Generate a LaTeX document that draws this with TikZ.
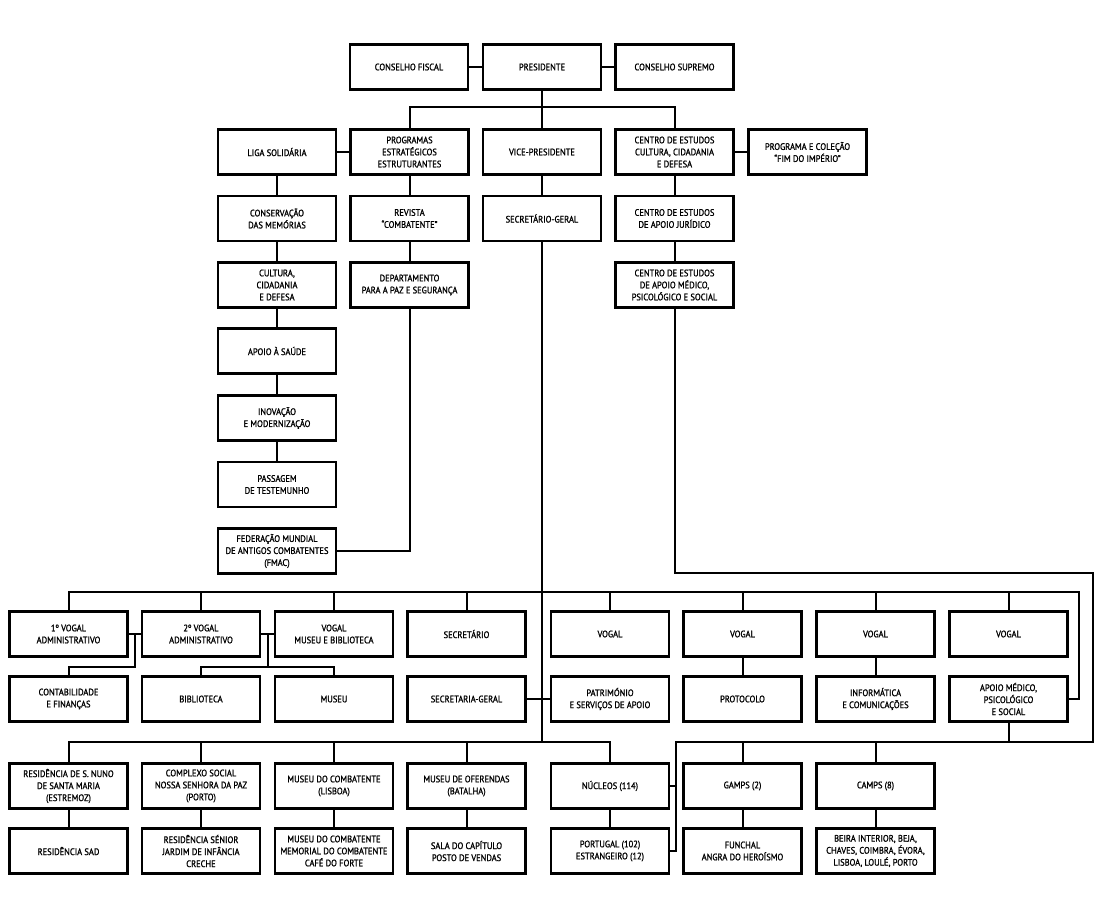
\documentclass[tikz,border=0pt]{standalone}
\usepackage{fontspec}
\setmainfont{PT Sans}[FakeStretch=0.9,FakeBold=1.2]
\begin{document}
\begin{tikzpicture}[x=1pt,y=-1pt,
  bx/.style={draw, line width=2.8pt, minimum width=118pt, minimum height=45pt,
    align=center, inner sep=1pt, font=\fontsize{9.4}{12}\selectfont},
  ln/.style={line width=2pt}]
\fill[white] (0,0) rectangle (1100,920);
\useasboundingbox (0,0) rectangle (1100,920);
% top row
\node[bx] (cf) at (409,67) {CONSELHO FISCAL};
\node[bx] (pres) at (542,67) {PRESIDENTE};
\node[bx] (cs) at (674.5,67) {CONSELHO SUPREMO};
% row 2
\node[bx] (liga) at (277,152) {LIGA SOLIDÁRIA};
\node[bx] (prog) at (409.5,152) {PROGRAMAS\\ESTRATÉGICOS\\ESTRUTURANTES};
\node[bx] (vp) at (542,152) {VICE-PRESIDENTE};
\node[bx] (ce) at (674.5,152) {CENTRO DE ESTUDOS\\CULTURA, CIDADANIA\\E DEFESA};
\node[bx] (pc) at (807.5,152) {PROGRAMA E COLEÇÃO\\“FIM DO IMPÉRIO”};
% row 3
\node[bx] (cons) at (277,218.5) {CONSERVAÇÃO\\DAS MEMÓRIAS};
\node[bx] (rev) at (409.5,218.5) {REVISTA\\“COMBATENTE”};
\node[bx] (sg) at (542,218.5) {SECRETÁRIO-GERAL};
\node[bx] (cej) at (674.5,218.5) {CENTRO DE ESTUDOS\\DE APOIO JURÍDICO};
% row 4
\node[bx] (cult) at (277,285) {CULTURA,\\CIDADANIA\\E DEFESA};
\node[bx] (dep) at (409.5,285) {DEPARTAMENTO\\PARA A PAZ E SEGURANÇA};
\node[bx] (cem) at (674.5,285) {CENTRO DE ESTUDOS\\DE APOIO MÉDICO,\\PSICOLÓGICO E SOCIAL};
% rows 5-8
\node[bx] (saude) at (277,351) {APOIO À SAÚDE};
\node[bx] (inov) at (277,418) {INOVAÇÃO\\E MODERNIZAÇÃO};
\node[bx] (pass) at (277,484.5) {PASSAGEM\\DE TESTEMUNHO};
\node[bx] (fmac) at (277,551) {FEDERAÇÃO MUNDIAL\\DE ANTIGOS COMBATENTES\\(FMAC)};
% vogal row
\node[bx] (v1) at (68.5,634) {1º VOGAL\\ADMINISTRATIVO};
\node[bx] (v2) at (201,634) {2º VOGAL\\ADMINISTRATIVO};
\node[bx] (v3) at (334,634) {VOGAL\\MUSEU E BIBLIOTECA};
\node[bx] (v4) at (466.5,634) {SECRETÁRIO};
\node[bx] (v5) at (610,634) {VOGAL};
\node[bx] (v6) at (742.5,634) {VOGAL};
\node[bx] (v7) at (875.5,634) {VOGAL};
\node[bx] (v8) at (1008.5,634) {VOGAL};
% second row
\node[bx] (contab) at (68.5,699) {CONTABILIDADE\\E FINANÇAS};
\node[bx] (bib) at (201,699) {BIBLIOTECA};
\node[bx] (mus) at (334,699) {MUSEU};
\node[bx] (secg) at (466.5,699) {SECRETARIA-GERAL};
\node[bx] (pat) at (610,699) {PATRIMÓNIO\\E SERVIÇOS DE APOIO};
\node[bx] (prot) at (742.5,699) {PROTOCOLO};
\node[bx] (info) at (875.5,699) {INFORMÁTICA\\E COMUNICAÇÕES};
\node[bx] (apm) at (1008.5,699) {APOIO MÉDICO,\\PSICOLÓGICO\\E SOCIAL};
% third row
\node[bx] (res) at (68.5,786) {RESIDÊNCIA DE S. NUNO\\DE SANTA MARIA\\(ESTREMOZ)};
\node[bx] (comp) at (201,786) {COMPLEXO SOCIAL\\NOSSA SENHORA DA PAZ\\(PORTO)};
\node[bx] (mc) at (334,786) {MUSEU DO COMBATENTE\\(LISBOA)};
\node[bx] (mo) at (466.5,786) {MUSEU DE OFERENDAS\\(BATALHA)};
\node[bx] (nuc) at (610,786) {NÚCLEOS (114)};
\node[bx] (gamps) at (742.5,786) {GAMPS (2)};
\node[bx] (camps) at (875.5,786) {CAMPS (8)};
% fourth row
\node[bx] (sad) at (68.5,851) {RESIDÊNCIA SAD};
\node[bx] (sen) at (201,851) {RESIDÊNCIA SÉNIOR\\JARDIM DE INFÂNCIA\\CRECHE};
\node[bx] (mcm) at (334,851) {MUSEU DO COMBATENTE\\MEMORIAL DO COMBATENTE\\CAFÉ DO FORTE};
\node[bx] (sala) at (466.5,851) {SALA DO CAPÍTULO\\POSTO DE VENDAS};
\node[bx] (port) at (610,851) {PORTUGAL (102)\\ESTRANGEIRO (12)};
\node[bx] (fun) at (742.5,851) {FUNCHAL\\ANGRA DO HEROÍSMO};
\node[bx] (beira) at (875.5,851) {BEIRA INTERIOR, BEJA,\\CHAVES, COIMBRA, ÉVORA,\\LISBOA, LOULÉ, PORTO};
% connectors top
\draw[ln] (cf) -- (pres);
\draw[ln] (pres) -- (cs);
\coordinate (b1) at (542,107);
\draw[ln] (pres.south) -- (b1);
\draw[ln] (prog.north) |- (b1) -| (ce.north);
\draw[ln] (b1) -- (vp.north);
\draw[ln] (liga) -- (prog);
\draw[ln] (ce) -- (pc);
% left chain
\draw[ln] (liga) -- (cons);
\draw[ln] (cons) -- (cult);
\draw[ln] (cult) -- (saude);
\draw[ln] (saude) -- (inov);
\draw[ln] (inov) -- (pass);
\draw[ln] (prog) -- (rev);
\draw[ln] (rev) -- (dep);
\draw[ln] (dep.south) |- (fmac.east);
\draw[ln] (vp) -- (sg);
\draw[ln] (ce) -- (cej);
\draw[ln] (cej) -- (cem);
% secretario-geral trunk
\coordinate (sgb) at (542,742);
\draw[ln] (sg.south) -- (sgb);
% vogal bus
\coordinate (vbr) at (1079,592);
\draw[ln] (v1.north) |- (vbr) |- (apm.east);
\foreach \n in {v2,v3,v4,v5,v6,v7,v8}{\draw[ln] (\n.north) -- (\n.north |- vbr);}
% left small connectors
\draw[ln] (v1) -- (v2);
\coordinate (j1) at (134.5,634);
\draw[ln] (j1) -- (134.5,667) -| (contab.north);
\draw[ln] (v2) -- (v3);
\coordinate (j2) at (267.5,634);
\draw[ln] (j2) -- (267.5,667);
\draw[ln] (bib.north) |- (267.5,667) -| (mus.north);
\draw[ln] (secg) -- (pat);
\draw[ln] (v6) -- (prot);
\draw[ln] (v7) -- (info);
% third bus left
\draw[ln] (res.north) |- (sgb) -| (nuc.north);
\foreach \n in {comp,mc,mo}{\draw[ln] (\n.north) -- (\n.north |- sgb);}
% loop from centro apoio medico
\coordinate (lp1) at (674.5,573);
\coordinate (lp2) at (1093,573);
\coordinate (lp3) at (1093,742);
\coordinate (lp4) at (676,742);
\draw[ln] (cem.south) -- (lp1) -- (lp2) -- (lp3) -- (lp4) |- (port.east);
\draw[ln] (nuc.east) -- (nuc.east -| lp4);
\draw[ln] (gamps.north) -- (gamps.north |- lp3);
\draw[ln] (camps.north) -- (camps.north |- lp3);
\draw[ln] (apm.south) -- (apm.south |- lp3);
% vertical pairs
\draw[ln] (res) -- (sad);
\draw[ln] (comp) -- (sen);
\draw[ln] (mc) -- (mcm);
\draw[ln] (mo) -- (sala);
\draw[ln] (nuc) -- (port);
\draw[ln] (gamps) -- (fun);
\draw[ln] (camps) -- (beira);
\end{tikzpicture}
\end{document}
